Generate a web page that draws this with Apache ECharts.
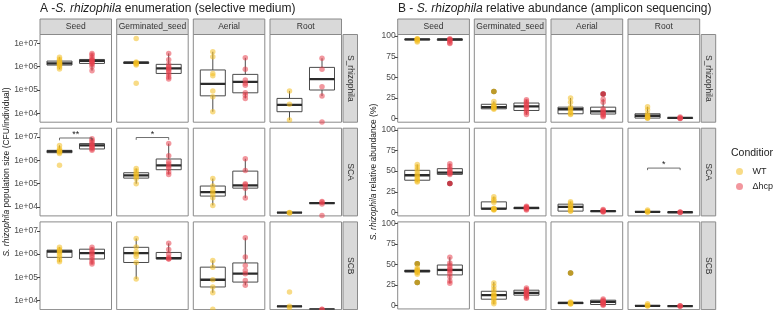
<!DOCTYPE html>
<html>
<head>
<meta charset="utf-8">
<script src="https://cdn.jsdelivr.net/npm/echarts@6/dist/echarts.min.js"></script>
<style>html,body{margin:0;padding:0;background:#fff}#main{width:773px;height:310px}</style>
</head>
<body>
<div id="main"></div>
<script>
var tissues = ['Seed', 'Germinated_seed', 'Aerial', 'Root'];
var strains = ['S_rhizophila', 'SCA', 'SCB'];
var conditions = ['WT', 'Δhcp'];

// A - log10(CFU/individual). box = [lower whisker, Q1, median, Q3, upper whisker], [row][col]
var cfuBoxWT = [
  [[5.90,6.07,6.14,6.24,6.40],[6.14,6.14,6.17,6.20,6.20],[4.07,4.75,5.26,5.86,6.64],[3.71,4.07,4.36,4.64,4.96]],
  [[6.30,6.33,6.39,6.43,6.64],[5.00,5.24,5.36,5.47,5.65],[4.07,4.47,4.64,4.90,5.22],[3.76,3.76,3.76,3.77,3.77]],
  [[5.67,5.86,6.11,6.17,6.29],[4.93,5.64,6.04,6.29,6.67],[4.34,4.59,4.90,5.44,5.73],[3.76,3.76,3.76,3.77,3.77]]
];
var cfuBoxHcp = [
  [[5.83,6.14,6.25,6.31,6.57],[5.47,5.71,5.93,6.10,6.57],[4.64,4.88,5.35,5.67,6.38],[4.74,5.00,5.47,5.97,6.36]],
  [[6.43,6.49,6.64,6.72,6.93],[5.40,5.60,5.79,6.06,6.72],[4.39,4.81,4.93,5.54,6.07],[4.13,4.15,4.17,4.19,4.24]],
  [[5.57,5.79,6.04,6.21,6.29],[5.79,5.79,5.83,6.07,6.46],[4.66,4.80,5.16,5.62,6.70],[3.63,3.63,3.63,3.64,3.64]]
];
var cfuPtsWT = [
  [[5.90,5.98,6.05,6.08,6.12,6.14,6.16,6.20,6.25,6.32,6.40],[7.21,6.20,6.17,6.15,6.12,6.07,5.29],[6.64,6.43,5.71,5.61,4.96,4.71,4.07],[4.96,4.39,3.71]],
  [[6.64,6.50,6.43,6.40,6.38,6.35,6.30,5.79],[5.65,5.55,5.45,5.38,5.30,5.22,5.00],[5.22,4.90,4.75,4.64,4.55,4.40,4.07],[3.77,3.76,3.74]],
  [[6.29,6.20,6.15,6.10,6.05,5.95,5.85,5.75,5.67],[6.67,6.30,6.10,6.00,5.90,5.64,4.93],[5.73,5.44,4.90,4.59,4.34,3.63],[4.37,3.76,3.70]]
];
var cfuPtsHcp = [
  [[6.57,6.50,6.40,6.32,6.28,6.25,6.20,6.15,6.10,6.00,5.83],[6.57,6.30,6.10,6.00,5.95,5.90,5.85,5.75,5.65,5.55,5.47],[6.38,5.89,5.43,5.29,5.20,4.88,4.78,4.64],[6.36,5.89,5.14,4.74,3.63]],
  [[6.93,6.85,6.79,6.70,6.64,6.60,6.55,6.49,6.43],[6.72,6.20,5.95,5.85,5.75,5.65,5.50,5.40],[6.07,5.57,5.00,4.96,4.81,4.39],[4.24,4.20,4.13,3.64]],
  [[6.29,6.20,6.10,6.04,5.95,5.85,5.75,5.65,5.57],[6.46,6.20,6.00,5.85,5.80,5.79],[6.70,5.87,5.51,5.30,5.16,4.87,4.66],[3.63,3.62]]
];

// B - relative abundance (%)
var abBoxWT = [
  [[95,95.5,96,96.5,97],[11,12,14,17.5,21],[4.8,6,11.5,14,25],[0.5,0.8,3.6,6,14.5]],
  [[37,39,45,51,58],[3,4,4.5,12.8,19],[1.5,1.6,6.8,10,13],[0,0.4,0.7,1,1.5]],
  [[38,41,42,43,46],[2.4,8.4,13.3,18,29],[2,3,4,4.5,5],[0,0.2,0.4,0.6,0.8]]
];
var abBoxHcp = [
  [[91,95,96,96.5,97],[5,10,15,19,23],[2.5,5.7,8.8,14,23.7],[0,0.5,1,1.2,1.5]],
  [[46,46.1,48.2,53,59],[3,4.5,5.5,6,7.5],[0.5,1,1.5,2,3.5],[0,0,0.2,0.4,0.6]],
  [[27,37.3,43.4,49.4,59],[9.5,13.3,16,19.3,22.5],[1,2,5.2,7.2,8.5],[0,0,0.1,0.2,0.5]]
];
var abPtsWT = [
  [[97,96.5,96,95.5,94,93],[33,21,17,15.5,14.5,13.5,12.5,11.5],[25,20,14,12,11,8,6,5],[14.5,11,6,4,3,1.5,0.8,0.5]],
  [[58,55,52,49,46,44,42,40,38,37],[19,16,14,12,5,4.5,4,3.5,3],[13,11,9,7,6,4,2,1.5],[2.8,1.5,0.7,0.3]],
  [[51,46,44,43,42,41,40,38,28],[28,24,20,17,14,13,12,10,8,5,3],[40,5,4,3.5,3,2.5],[3,1,0.4,0.2]]
];
var abPtsHcp = [
  [[97,96,95.5,94,92,91],[23,21,19,17,15.5,14,12,10,7.5,5],[29.8,23.7,20,12,10,8,7,5,3.5,2.5],[2,1,0.5,0.3]],
  [[59,56,53,51,49,48,47,46,35],[7.5,6.5,6,5.5,5,4,3],[3.6,2.5,1.5,1,0.5],[0.5,0.2,0]],
  [[59,52,49,46,44,42,39,35,30,27],[22,20,19,17,16,15,14,13,11,9.5],[8.5,7,6,5,4,3,2,1],[0.5,0.1,0]]
];
// outliers flagged by the boxplot layer (B only)
var abOutWT = [[[],[33],[],[]],[[],[],[],[]],[[51,28],[],[40],[]]];
var abOutHcp = [[[],[],[29.8],[]],[[35],[],[],[]],[[],[],[],[]]];

// significance brackets: [panel, row, col, y, y of tick ends, label]
var brackets = [
  [0, 1, 0, 6.96, 6.86, '**'],
  [0, 1, 1, 6.98, 6.88, '*'],
  [1, 1, 3, 53.7, 51.2, '*']
];

var cfuTicks = [4, 5, 6, 7];
var abTicks = [0, 25, 50, 75, 100];

var FONT = '"Liberation Sans", Arial, Helvetica, sans-serif';
var WT_COL = '#F2BE22', HCP_COL = '#E8414F';
var WT_OUT = '#6f5f18', HCP_OUT = '#8c1f2c';
var BOX_W = 0.77;

//layout
var panelLeft = [[40, 116.7, 193.3, 270], [397.7, 474.3, 551, 628]];
var panelW = [71.5, 71.7];
var rowTop = [34.5, 128.2, 221.9];
var rowH = 87.7;
var yRange = [[3.62, 7.38], [-4.2, 102]];

function renderBox(params, api){
    var x = api.value(0);
    var lo = api.coord([x, api.value(1)]), q1 = api.coord([x, api.value(2)]);
    var md = api.coord([x, api.value(3)]), q3 = api.coord([x, api.value(4)]), hi = api.coord([x, api.value(5)]);
    var half = api.size([BOX_W, 0])[0] / 2;
    var ln = {stroke: '#4a4a4a', lineWidth: 1};
    return {type: 'group', children: [
        {type: 'line', shape: {x1: hi[0], y1: hi[1], x2: q3[0], y2: q3[1]}, style: ln},
        {type: 'line', shape: {x1: lo[0], y1: lo[1], x2: q1[0], y2: q1[1]}, style: ln},
        {type: 'rect', shape: {x: q3[0] - half, y: q3[1], width: half * 2, height: Math.max(q1[1] - q3[1], 0)}, style: {fill: '#fff', stroke: '#4a4a4a', lineWidth: 1}},
        {type: 'line', shape: {x1: md[0] - half, y1: md[1], x2: md[0] + half, y2: md[1]}, style: {stroke: '#2b2b2b', lineWidth: 2.3}}
    ]};
}

function renderBracket(params, api){
    var b = brackets[api.value(4)];
    var a1 = api.coord([api.value(0), api.value(3)]), a2 = api.coord([api.value(0), api.value(2)]);
    var b2 = api.coord([api.value(1), api.value(2)]), b1 = api.coord([api.value(1), api.value(3)]);
    return {type: 'group', children: [
        {type: 'polyline', shape: {points: [a1, a2, b2, b1]}, style: {stroke: '#4a4a4a', lineWidth: 0.8, fill: null}},
        {type: 'text', x: (a2[0] + b2[0]) / 2, y: a2[1] + 1, style: {text: b[5], fontSize: 9, fontFamily: FONT, fill: '#222', align: 'center', verticalAlign: 'bottom'}}
    ]};
}

function pts(x, arr){
    return arr.map(function(v){ return [x, v]; });
}

var option = {
    animation: false,
    grid: [], xAxis: [], yAxis: [], series: [],
    legend: {
        data: conditions, orient: 'vertical', left: 731, top: 162, itemWidth: 16, itemHeight: 7, itemGap: 6,
        icon: 'circle', selectedMode: false,
        textStyle: {fontSize: 9, fontFamily: FONT, color: '#222'}
    },
    graphic: []
};

var g = option.graphic;
function gtext(x, y, text, size, extra){
    var st = {text: text, fontSize: size, fontFamily: FONT, fill: '#222', align: 'center', verticalAlign: 'middle',
        rich: {i: {fontStyle: 'italic', fontSize: size, fontFamily: FONT, fill: '#222'}}};
    for (var k in extra) st[k] = extra[k];
    return {type: 'text', x: x, y: y, style: st, silent: true};
}

for (var p = 0; p < 2; p++){
    for (var r = 0; r < 3; r++){
        for (var c = 0; c < 4; c++){
            var gi = p * 12 + r * 4 + c;
            option.grid.push({left: panelLeft[p][c], top: rowTop[r], width: panelW[p], height: rowH,
                show: true, borderColor: '#8a8a8a', borderWidth: 1, backgroundColor: '#fff'});
            option.xAxis.push({gridIndex: gi, type: 'value', min: 0.4, max: 2.6, show: false});
            var ticks = p == 0 ? cfuTicks : abTicks;
            option.yAxis.push({gridIndex: gi, type: 'value', min: yRange[p][0], max: yRange[p][1],
                splitLine: {show: false}, axisLine: {show: false},
                axisTick: {show: c == 0, length: 3, lineStyle: {color: '#444'}, customValues: ticks},
                axisLabel: {show: c == 0, customValues: ticks, fontSize: 8.5, fontFamily: FONT, color: '#4d4d4d', margin: 2,
                    formatter: p == 0 ? function(v){ return '1e+0' + Math.round(v); } : function(v){ return '' + v; }}
            });
            var bw = p == 0 ? cfuBoxWT[r][c] : abBoxWT[r][c];
            var bh = p == 0 ? cfuBoxHcp[r][c] : abBoxHcp[r][c];
            option.series.push({type: 'custom', xAxisIndex: gi, yAxisIndex: gi, clip: true, z: 2, silent: true,
                renderItem: renderBox, encode: {x: 0, y: [1, 2, 3, 4, 5]},
                data: [[1].concat(bw), [2].concat(bh)]});
            if (p == 1){
                option.series.push({type: 'scatter', xAxisIndex: gi, yAxisIndex: gi, z: 3, silent: true, symbolSize: 5.5,
                    itemStyle: {color: WT_OUT, opacity: 0.9}, data: pts(1, abOutWT[r][c])});
                option.series.push({type: 'scatter', xAxisIndex: gi, yAxisIndex: gi, z: 3, silent: true, symbolSize: 5.5,
                    itemStyle: {color: HCP_OUT, opacity: 0.9}, data: pts(2, abOutHcp[r][c])});
            }
            option.series.push({type: 'scatter', name: 'WT', xAxisIndex: gi, yAxisIndex: gi, z: 4, silent: true, symbolSize: 5.5,
                itemStyle: {color: WT_COL, opacity: 0.55}, data: pts(1, p == 0 ? cfuPtsWT[r][c] : abPtsWT[r][c])});
            option.series.push({type: 'scatter', name: 'Δhcp', xAxisIndex: gi, yAxisIndex: gi, z: 4, silent: true, symbolSize: 5.5,
                itemStyle: {color: HCP_COL, opacity: 0.55}, data: pts(2, p == 0 ? cfuPtsHcp[r][c] : abPtsHcp[r][c])});
            // column strips
            if (r == 0){
                g.push({type: 'rect', shape: {x: panelLeft[p][c], y: 19, width: panelW[p], height: 15.5},
                    style: {fill: '#d9d9d9', stroke: '#8a8a8a', lineWidth: 1}, silent: true});
                g.push(gtext(panelLeft[p][c] + panelW[p] / 2, 27, tissues[c], 8.5, {fill: '#333'}));
            }
        }
        // row strips
        var sx = panelLeft[p][3] + panelW[p] + 1.5;
        g.push({type: 'rect', shape: {x: sx, y: rowTop[r], width: 14.5, height: rowH},
            style: {fill: '#d9d9d9', stroke: '#8a8a8a', lineWidth: 1}, silent: true});
        g.push(gtext(sx + 7.5, rowTop[r] + rowH / 2, strains[r], 8.5, {fill: '#333'}));
        g[g.length - 1].rotation = -Math.PI / 2;
    }
}

// brackets
for (var i = 0; i < brackets.length; i++){
    var b = brackets[i];
    var gi2 = b[0] * 12 + b[1] * 4 + b[2];
    option.series.push({type: 'custom', xAxisIndex: gi2, yAxisIndex: gi2, z: 5, silent: true,
        renderItem: renderBracket, encode: {x: [0, 1], y: [2, 3]}, data: [[1, 2, b[3], b[4], i]]});
}

// titles
g.push(gtext(40, 9, 'A -{i|S. rhizophila} enumeration (selective medium)', 12, {align: 'left'}));
g.push(gtext(398, 9, 'B - {i|S. rhizophila} relative abundance (amplicon sequencing)', 12, {align: 'left'}));
var yt1 = gtext(7, 172, '{i|S. rhizophila} population size (CFU/individual)', 8.5, {});
yt1.rotation = Math.PI / 2;
g.push(yt1);
var yt2 = gtext(374, 172, '{i|S. rhizophila} relative abundance (%)', 8.5, {});
yt2.rotation = Math.PI / 2;
g.push(yt2);
g.push(gtext(731, 153, 'Condition', 10.5, {align: 'left'}));

var chart = echarts.init(document.getElementById('main'));
chart.setOption(option);
</script>
</body>
</html>
